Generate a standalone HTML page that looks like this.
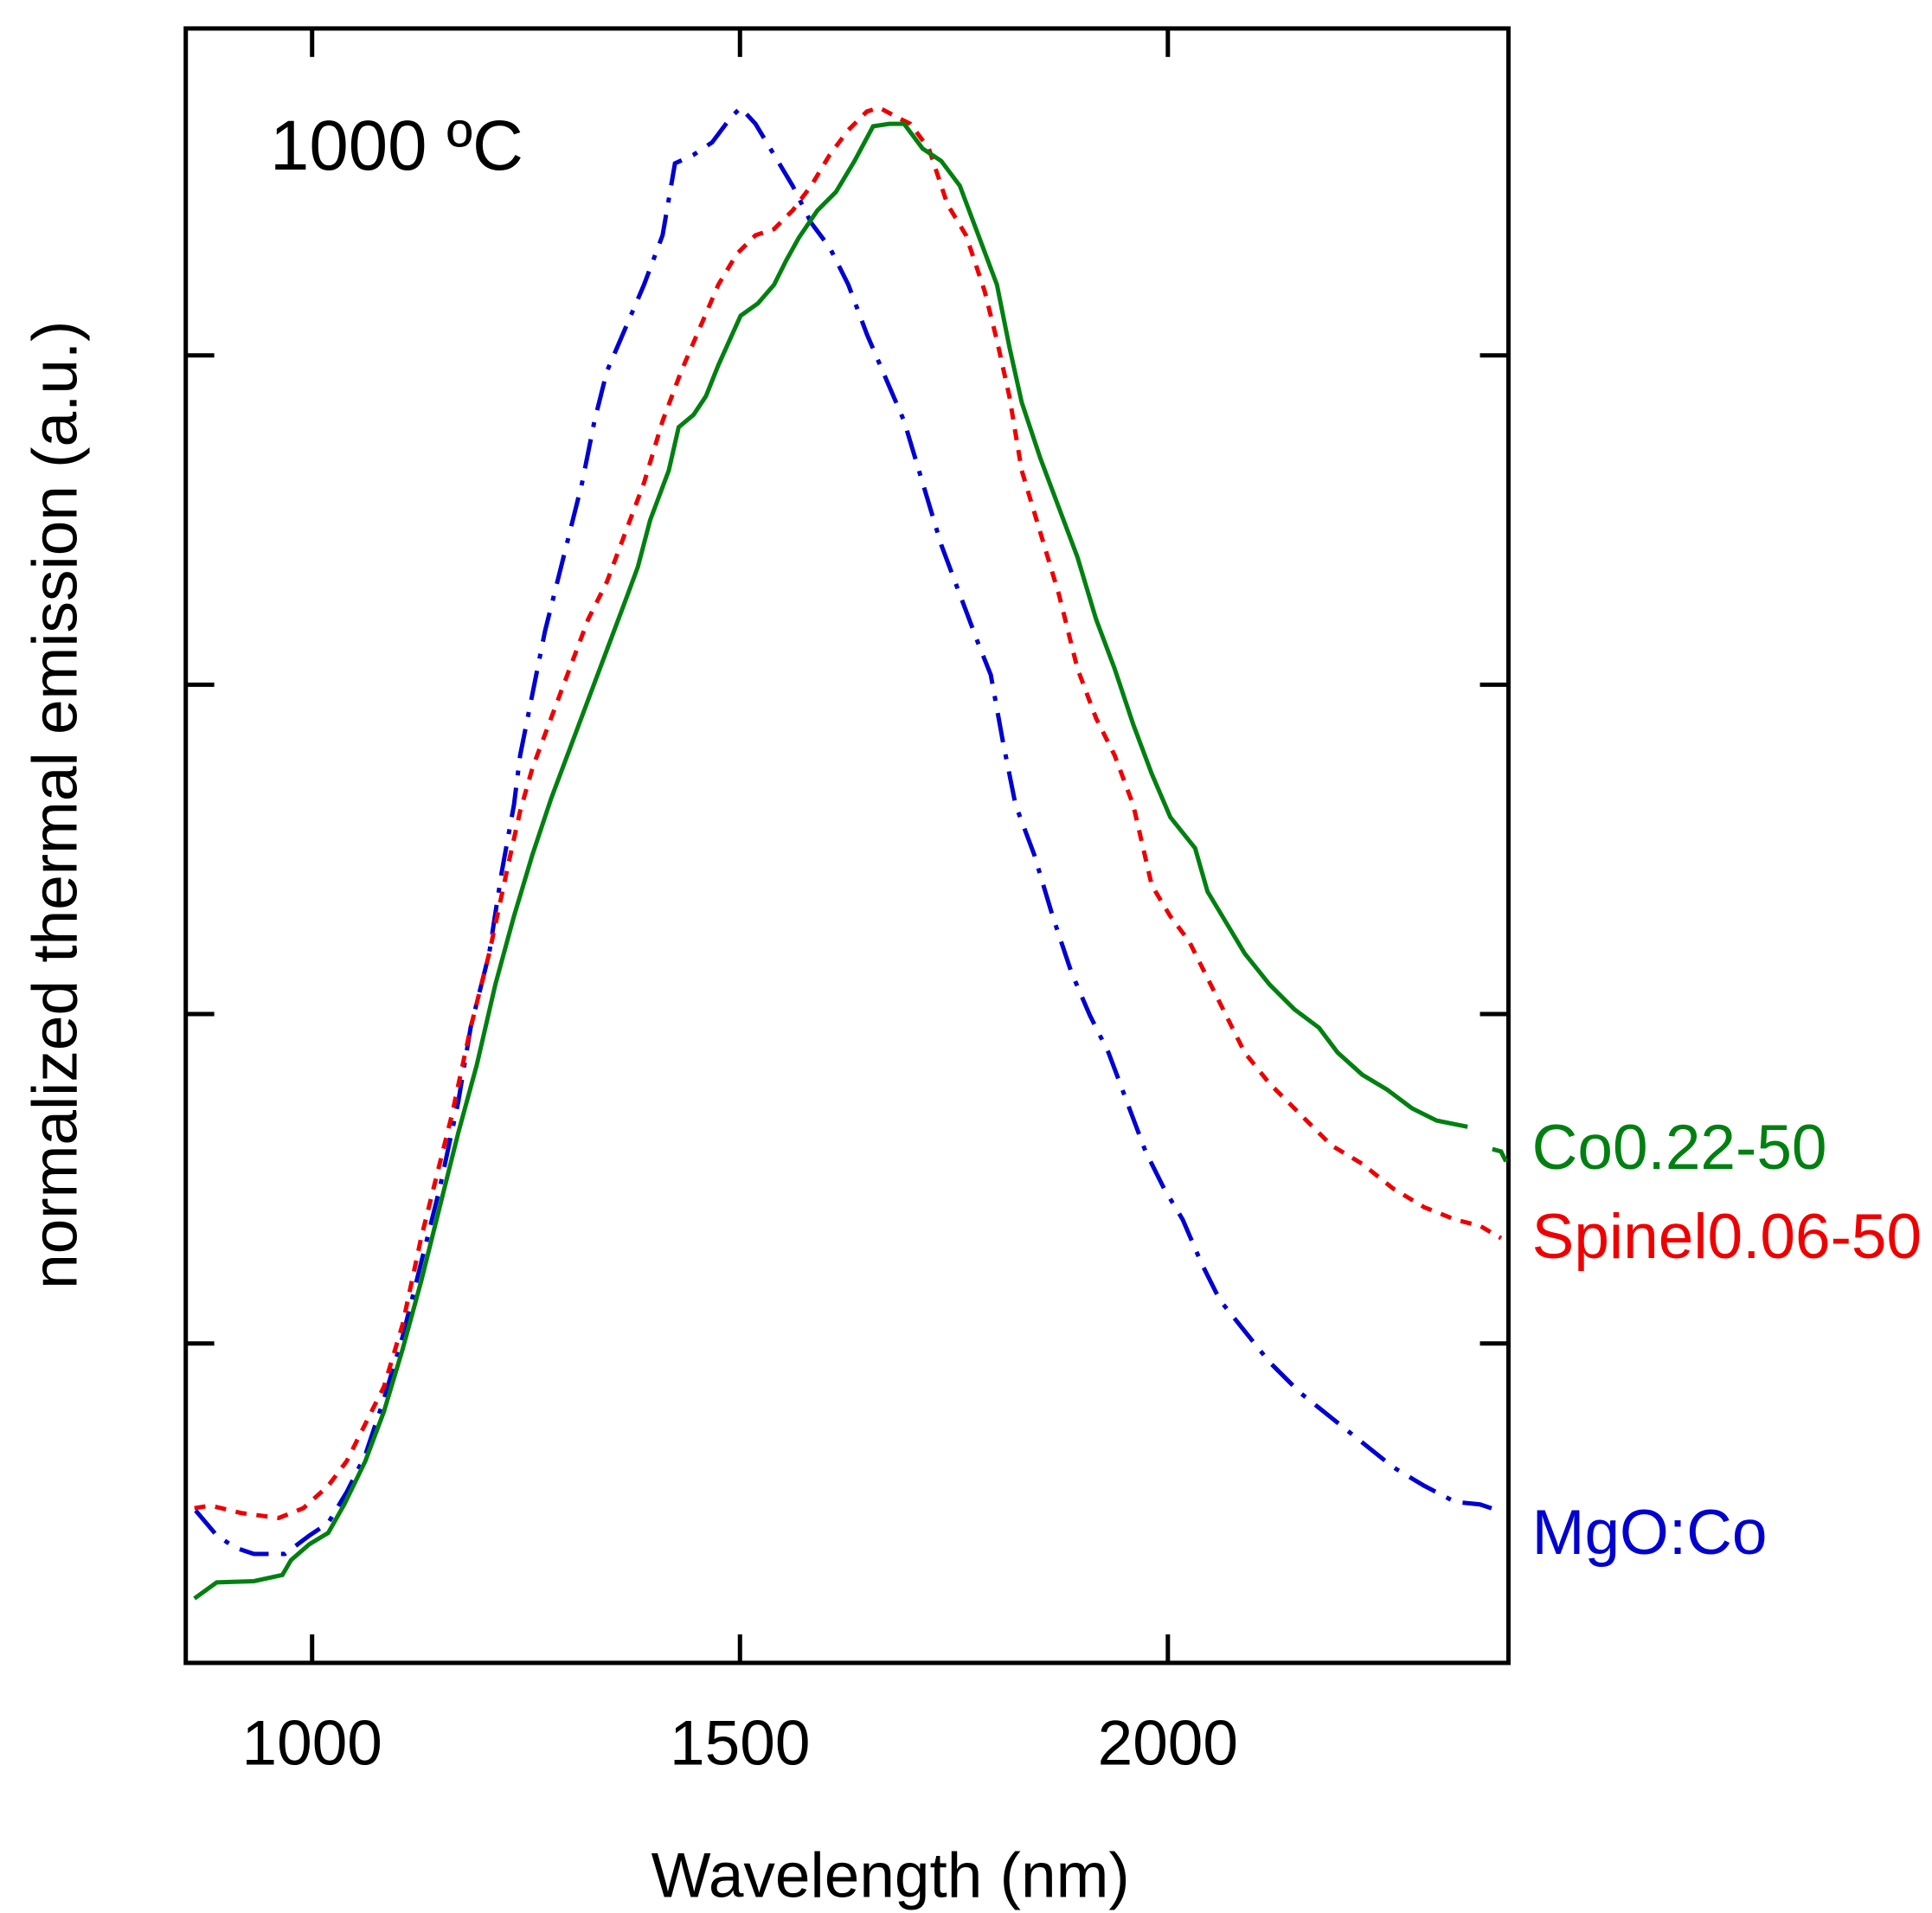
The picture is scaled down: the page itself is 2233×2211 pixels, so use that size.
<!DOCTYPE html>
<html><head><meta charset="utf-8"><style>html,body{margin:0;padding:0;background:#fff}svg{display:block}</style></head>
<body>
<svg xmlns="http://www.w3.org/2000/svg" width="2233" height="2211" viewBox="0 0 1560 1545" preserveAspectRatio="none" font-family="Liberation Sans, Arial, sans-serif">
<rect width="1560" height="1545" fill="#fff"/>
<rect x="150" y="23" width="1068" height="1320" fill="none" stroke="#000" stroke-width="3.5"/>
<g stroke="#000" stroke-width="3.5">
<line x1="252" y1="23" x2="252" y2="46"/><line x1="597.5" y1="23" x2="597.5" y2="46"/><line x1="943" y1="23" x2="943" y2="46"/>
<line x1="252" y1="1343" x2="252" y2="1320"/><line x1="597.5" y1="1343" x2="597.5" y2="1320"/><line x1="943" y1="1343" x2="943" y2="1320"/>
<line x1="150" y1="287" x2="173" y2="287"/><line x1="150" y1="553" x2="173" y2="553"/><line x1="150" y1="819" x2="173" y2="819"/><line x1="150" y1="1085" x2="173" y2="1085"/>
<line x1="1218" y1="287" x2="1195" y2="287"/><line x1="1218" y1="553" x2="1195" y2="553"/><line x1="1218" y1="819" x2="1195" y2="819"/><line x1="1218" y1="1085" x2="1195" y2="1085"/>
</g>
<g font-size="51" fill="#000" text-anchor="middle">
<text x="252" y="1425">1000</text><text x="597.5" y="1425">1500</text><text x="943" y="1425">2000</text>
<text x="719" y="1532">Wavelength (nm)</text>
<text transform="translate(62,650) rotate(-90)">normalized thermal emission (a.u.)</text>
</g>
<text x="218" y="137" font-size="57" fill="#000">1000 ºC</text>
<polyline fill="none" stroke="#0000d0" stroke-width="3.5" stroke-dasharray="24,10,4,10" points="158,1220 175,1240 190,1250 205,1255 230,1255 250,1240 265,1230 280,1205 295,1175 310,1130 325,1080 340,1020 355,960 370,890 380,830 395,770 405,705 415,650 420,610 430,560 440,510 450,470 460,430 470,390 480,340 490,300 505,265 520,230 535,190 545,132 560,125 575,115 590,95 598,87 610,100 625,125 640,150 655,180 670,200 685,230 700,270 715,305 730,340 745,390 760,440 775,480 790,520 800,545 810,600 820,650 835,690 850,740 865,785 880,820 895,850 910,890 925,930 940,960 955,985 970,1020 985,1050 1005,1075 1025,1100 1050,1125 1075,1145 1100,1165 1125,1185 1150,1200 1175,1213 1195,1215 1210,1220"/>
<polyline fill="none" stroke="#ee0000" stroke-width="3.5" stroke-dasharray="9,8" points="157,1218 170,1216 195,1222 225,1226 245,1218 265,1200 280,1180 295,1150 310,1120 325,1070 340,1000 355,940 365,900 380,830 395,770 410,700 420,655 430,620 445,580 460,540 475,500 490,470 505,430 520,390 535,340 550,300 565,265 580,230 595,205 610,190 625,185 640,170 655,150 670,125 685,105 700,90 710,87 725,95 735,100 750,120 765,165 780,190 795,235 805,275 815,320 825,380 840,430 855,480 870,540 885,580 900,610 915,650 930,715 945,740 960,760 975,790 990,820 1005,850 1025,875 1050,900 1075,925 1100,940 1125,960 1150,975 1175,985 1195,990 1212,1000"/>
<polyline fill="none" stroke="#008010" stroke-width="3.5" points="157,1291 175,1278 205,1277 228,1272 235,1260 250,1247 265,1238 278,1215 295,1180 310,1140 325,1090 340,1035 355,975 370,915 385,860 400,795 415,740 430,690 445,645 460,605 475,565 490,525 505,485 515,458 525,420 540,380 548,345 560,335 570,320 580,295 598,255 612,245 625,230 635,210 645,192 660,170 675,155 690,130 705,102 718,100 730,100 745,120 760,130 775,150 790,190 805,230 815,280 825,325 840,370 855,410 870,450 885,500 900,540 915,585 930,625 945,660 965,685 975,720 990,745 1005,770 1025,795 1045,815 1065,830 1080,850 1100,868 1120,880 1140,895 1160,905 1185,910"/>
<polyline fill="none" stroke="#008010" stroke-width="3.5" points="1205,928 1212,930 1216,938"/>
<g font-size="51">
<text x="1237" y="944" fill="#008010">Co0.22-50</text>
<text x="1237" y="1016" fill="#ee0000">Spinel0.06-50</text>
<text x="1237" y="1255" fill="#0000d0">MgO:Co</text>
</g>
</svg>
</body></html>
